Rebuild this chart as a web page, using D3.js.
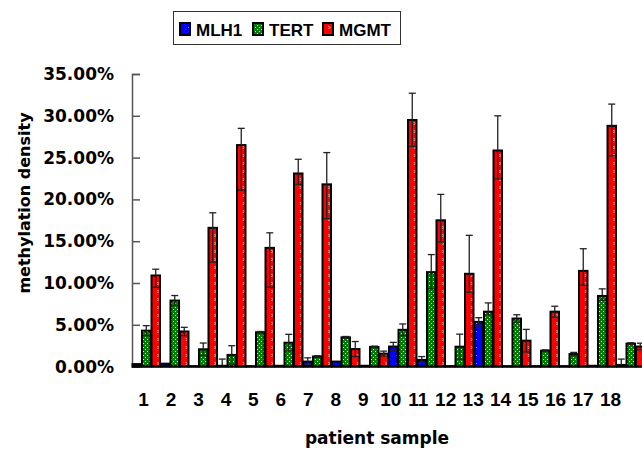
<!DOCTYPE html>
<html>
<head>
<meta charset="utf-8">
<script src="https://cdn.jsdelivr.net/npm/d3@7"></script>
<style>
  body { margin: 0; background: #fff; }
  svg { display: block; }
</style>
</head>
<body>
<div id="chart"></div>
<script>
// values (percent)
var samples = ["1","2","3","4","5","6","7","8","9","10","11","12","13","14","15","16","17","18"];
var seriesNames = ["MLH1", "TERT", "MGMT"];

var mlh1 = [0.3, 0.35, 0.05, 0.1, 0.05, 0.1, 0.6, 0.6, 0.1, 2.4, 0.8, 0.05, 5.35, 0.05, 0.05, 0.05, 0.1, 0.2];
var mlh1Up = [0, 0, 0, 0.8, 0, 0, 0.45, 0, 0, 0.5, 0.4, 0, 0.5, 0, 0, 0, 0, 0.7];
var mlh1Down = [0, 0, 0, 0, 0, 0, 0.3, 0, 0, 0.5, 0.4, 0, 0.5, 0, 0, 0, 0, 0];

var tert = [4.3, 7.9, 2.07, 1.4, 4.1, 2.86, 1.2, 3.5, 2.35, 4.4, 11.3, 2.38, 6.57, 5.75, 1.9, 1.5, 8.45, 2.75];
var tertUp = [0.6, 0.6, 0.75, 1.1, 0.1, 1.0, 0.1, 0.1, 0.1, 0.7, 2.1, 1.5, 1.05, 0.45, 0.1, 0.2, 0.85, 0.1];
var tertDown = [0.6, 0.6, 0.75, 1.1, 0.1, 1.0, 0.1, 0.1, 0.1, 0.7, 2.0, 1.5, 0.4, 0.45, 0.1, 0.2, 0.5, 0.1];

var mgmt = [10.9, 4.2, 16.6, 26.5, 14.2, 23.1, 21.8, 2.1, 1.55, 29.5, 17.5, 11.1, 25.85, 3.1, 6.57, 11.45, 28.8, 2.4];
var mgmtUp = [0.75, 0.5, 1.8, 2.0, 1.8, 1.7, 3.8, 0.9, 0.3, 3.2, 3.1, 4.6, 4.15, 1.35, 0.65, 2.65, 2.6, 0.4];
var mgmtDown = [1.4, 0.5, 4.1, 5.4, 4.7, 1.3, 4.1, 0.9, 0.3, 3.15, 2.6, 2.2, 3.4, 1.35, 0.65, 1.7, 3.6, 0.4];

var yTicks = [0, 5, 10, 15, 20, 25, 30, 35];

var svgWidth = 642, svgHeight = 449;
var margin = { top: 74, left: 132, bottom: 82 };
var y0 = 366.6;

var svg = d3.select("#chart").append("svg")
  .attr("width", svgWidth)
  .attr("height", svgHeight);

// fill patterns
var defs = svg.append("defs");
var pg = defs.append("pattern").attr("id", "pat-TERT")
  .attr("patternUnits", "userSpaceOnUse").attr("width", 4).attr("height", 4);
pg.append("rect").attr("width", 4).attr("height", 4).attr("fill", "#008000");
pg.append("rect").attr("x", 1).attr("y", 1).attr("width", 1).attr("height", 1).attr("fill", "#cfe8cf");
pg.append("rect").attr("x", 3).attr("y", 3).attr("width", 1).attr("height", 1).attr("fill", "#cfe8cf");

var pr = defs.append("pattern").attr("id", "pat-MGMT")
  .attr("patternUnits", "userSpaceOnUse").attr("width", 9.5).attr("height", 8)
  .attr("x", 0.5);
pr.append("rect").attr("width", 9.5).attr("height", 8).attr("fill", "#ff0000");
pr.append("rect").attr("x", 5).attr("y", 2).attr("width", 1).attr("height", 1).attr("fill", "#ffd0d0");
pr.append("rect").attr("x", 6).attr("y", 3).attr("width", 1).attr("height", 1).attr("fill", "#ffd0d0");
pr.append("rect").attr("x", 5).attr("y", 4).attr("width", 1).attr("height", 1).attr("fill", "#ffd0d0");

var pb = defs.append("pattern").attr("id", "pat-MLH1")
  .attr("patternUnits", "userSpaceOnUse").attr("width", 8).attr("height", 8);
pb.append("rect").attr("width", 8).attr("height", 8).attr("fill", "#0000ff");
pb.append("rect").attr("x", 4).attr("y", 3).attr("width", 1).attr("height", 1).attr("fill", "#9090ff");

// scales
var x0 = d3.scaleBand().domain(samples).range([margin.left, margin.left + 18 * 28.5]).padding(0);
var x1 = d3.scaleBand().domain(seriesNames).range([0, x0.bandwidth()]).padding(0);
var y = d3.scaleLinear().domain([0, 35]).range([y0, margin.top]);
// the category labels sit a little apart from the bars in the picture
var xLab = d3.scalePoint().domain(samples).range([143, 610]);

var rows = samples.map(function(s, i) {
  return [
    { s: s, k: "MLH1", v: mlh1[i], up: mlh1Up[i], dn: mlh1Down[i] },
    { s: s, k: "TERT", v: tert[i], up: tertUp[i], dn: tertDown[i] },
    { s: s, k: "MGMT", v: mgmt[i], up: mgmtUp[i], dn: mgmtDown[i] }
  ];
});
var flat = [].concat.apply([], rows);

// y axis (ticks point inwards)
var yAxis = svg.append("g")
  .attr("transform", "translate(" + margin.left + ",0)")
  .call(d3.axisLeft(y).tickValues(yTicks).tickSize(-8).tickPadding(18)
    .tickFormat(function(d) { return d.toFixed(2) + "%"; }));
yAxis.select(".domain").attr("stroke", "#555").attr("stroke-width", 1.5);
yAxis.selectAll(".tick line").attr("stroke", "#555").attr("stroke-width", 1.5);
yAxis.selectAll(".tick text")
  .attr("fill", "#000")
  .style("font-family", "'DejaVu Sans', sans-serif")
  .style("font-weight", "bold")
  .style("font-size", "17px");

// bars
svg.append("g").selectAll("rect")
  .data(flat)
  .enter()
  .append("rect")
  .attr("x", function(d) { return x0(d.s) + x1(d.k) + 0.5; })
  .attr("y", function(d) { return y(d.v); })
  .attr("width", x1.bandwidth() - 1)
  .attr("height", function(d) { return y0 - y(d.v); })
  .attr("fill", function(d) { return "url(#pat-" + d.k + ")"; })
  .attr("stroke", "#000")
  .attr("stroke-width", 2);

// error bars
var eb = svg.append("g").attr("stroke", "#222").attr("stroke-width", 1.3);
flat.forEach(function(d) {
  var cx = x0(d.s) + x1(d.k) + x1.bandwidth() / 2;
  if (d.up > 0) {
    eb.append("line").attr("x1", cx).attr("x2", cx).attr("y1", y(d.v)).attr("y2", y(d.v + d.up));
    eb.append("line").attr("x1", cx - 3.5).attr("x2", cx + 3.5).attr("y1", y(d.v + d.up)).attr("y2", y(d.v + d.up));
  }
  if (d.dn > 0) {
    var lo = Math.max(0, d.v - d.dn);
    eb.append("line").attr("x1", cx).attr("x2", cx).attr("y1", y(d.v)).attr("y2", y(lo));
    eb.append("line").attr("x1", cx - 3.5).attr("x2", cx + 3.5).attr("y1", y(lo)).attr("y2", y(lo));
  }
});

// x baseline
svg.append("line")
  .attr("x1", margin.left).attr("x2", svgWidth)
  .attr("y1", y0).attr("y2", y0)
  .attr("stroke", "#000").attr("stroke-width", 2);

// category labels
var xAxis = svg.append("g")
  .attr("transform", "translate(0," + y0 + ")")
  .call(d3.axisBottom(xLab).tickSize(0).tickPadding(26));
xAxis.select(".domain").remove();
xAxis.selectAll(".tick text")
  .attr("fill", "#000")
  .style("font-family", "'Liberation Sans', Arial, sans-serif")
  .style("font-weight", "bold")
  .style("font-size", "19px");

// axis titles
svg.append("text")
  .attr("transform", "translate(30,203) rotate(-90)")
  .attr("text-anchor", "middle")
  .style("font-family", "'DejaVu Sans', sans-serif")
  .style("font-weight", "bold")
  .style("font-size", "16px")
  .text("methylation density");

svg.append("text")
  .attr("x", 377)
  .attr("y", 444)
  .attr("text-anchor", "middle")
  .style("font-family", "'DejaVu Sans', sans-serif")
  .style("font-weight", "bold")
  .style("font-size", "17px")
  .text("patient sample");

// legend
var legend = svg.append("g");
legend.append("rect")
  .attr("x", 173.5).attr("y", 11.5).attr("width", 227).attr("height", 33)
  .attr("fill", "#fff").attr("stroke", "#333").attr("stroke-width", 1);
var legX = [179, 252, 322];
seriesNames.forEach(function(k, i) {
  legend.append("rect")
    .attr("x", legX[i] + 1).attr("y", 23)
    .attr("width", 10).attr("height", 12)
    .attr("fill", "url(#pat-" + k + ")")
    .attr("stroke", "#000").attr("stroke-width", 2);
  legend.append("text")
    .attr("x", legX[i] + 17)
    .attr("y", 36)
    .style("font-family", "'Liberation Sans', Arial, sans-serif")
    .style("font-weight", "bold")
    .style("font-size", "17px")
    .text(k);
});
</script>
</body>
</html>
